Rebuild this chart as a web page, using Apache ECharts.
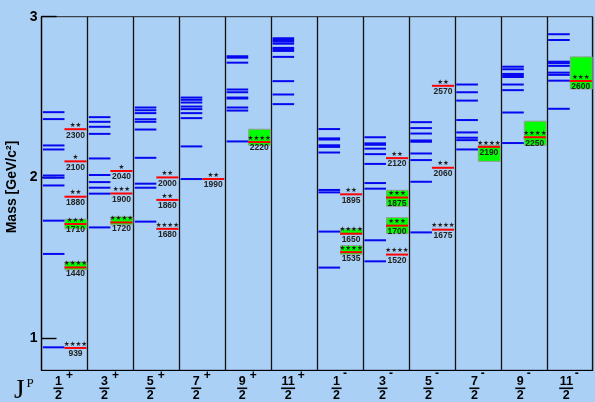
<!DOCTYPE html>
<html>
<head>
<meta charset="utf-8">
<script src="https://cdn.jsdelivr.net/npm/echarts@6/dist/echarts.min.js"></script>
<style>
  html, body { margin: 0; padding: 0; background: #aad0f5; }
  #chart { width: 595px; height: 402px; }
</style>
</head>
<body>
<div id="chart"></div>
<script>
// J^P columns
const categories = ['1/2+', '3/2+', '5/2+', '7/2+', '9/2+', '11/2+',
                    '1/2-', '3/2-', '5/2-', '7/2-', '9/2-', '11/2-'];

// Quark-model nucleon levels per J^P column (GeV/c^2)
const model_1_2p  = [0.943, 1.524, 1.731, 1.950, 1.998, 2.012, 2.174, 2.199, 2.363, 2.406];
const model_3_2p  = [1.689, 1.899, 1.936, 1.971, 2.015, 2.118, 2.271, 2.315, 2.346, 2.375];
const model_5_2p  = [1.725, 1.936, 1.961, 2.122, 2.298, 2.346, 2.362, 2.400, 2.418, 2.435];
const model_7_2p  = [1.990, 2.193, 2.369, 2.400, 2.425, 2.441, 2.466, 2.483, 2.497];
const model_9_2p  = [2.224, 2.416, 2.435, 2.491, 2.497, 2.530, 2.547, 2.714, 2.745, 2.754];
const model_11_2p = [2.456, 2.516, 2.599, 2.750, 2.787, 2.798, 2.806, 2.832, 2.845, 2.855, 2.866];
const model_1_2m  = [1.439, 1.663, 1.907, 1.922, 2.155, 2.190, 2.200, 2.236, 2.243, 2.301];
const model_3_2m  = [1.478, 1.609, 1.930, 1.965, 2.084, 2.145, 2.179, 2.203, 2.212, 2.250];
const model_5_2m  = [1.658, 1.973, 2.108, 2.149, 2.222, 2.230, 2.273, 2.307, 2.344];
const model_7_2m  = [2.174, 2.232, 2.247, 2.280, 2.357, 2.478, 2.530, 2.578];
const model_9_2m  = [2.214, 2.404, 2.543, 2.578, 2.625, 2.636, 2.644, 2.673, 2.689];
const model_11_2m = [2.427, 2.602, 2.638, 2.652, 2.694, 2.711, 2.720, 2.855, 2.891];
const modelLevels = [model_1_2p, model_3_2p, model_5_2p, model_7_2p, model_9_2p, model_11_2p,
                     model_1_2m, model_3_2m, model_5_2m, model_7_2m, model_9_2m, model_11_2m];

// Observed resonances: column index, mass (MeV) and star rating
const expColumn = [0, 0, 0, 0, 0, 0,   1, 1, 1,   2, 2, 2,   3,   4,
                   6, 6, 6,   7, 7, 7, 7,   8, 8, 8,   9,   10,   11];
const expMass   = [939, 1440, 1710, 1880, 2100, 2300,   1720, 1900, 2040,   1680, 1860, 2000,   1990,   2220,
                   1535, 1650, 1895,   1520, 1700, 1875, 2120,   1675, 2060, 2570,   2190,   2250,   2600];
const expStars  = [4, 4, 3, 2, 1, 2,   4, 3, 1,   4, 2, 2,   2,   4,
                   4, 4, 2,   4, 3, 3, 2,   4, 2, 2,   4,   4,   3];

// Mass ranges of the established states (MeV), drawn as boxes
const rangeColumn = [0, 0, 1, 4, 6, 6, 7, 7, 9, 10, 11];
const rangeLow    = [1425, 1680, 1705, 2200, 1522, 1646, 1650, 1820, 2100, 2200, 2550];
const rangeHigh   = [1475, 1740, 1755, 2300, 1576, 1679, 1750, 1920, 2200, 2350, 2750];

// Y axis tick values (GeV/c^2)
const massTicks = [1, 2, 3];

const modelData = [];
modelLevels.forEach((levels, col) => levels.forEach(m => modelData.push([col, m])));
const expData = expMass.map((m, i) => [expColumn[i], m / 1000, expStars[i], m]);
const rangeData = rangeLow.map((lo, i) => [rangeColumn[i], lo / 1000, rangeHigh[i] / 1000]);

const chart = echarts.init(document.getElementById('chart'), null, { renderer: 'canvas' });

// "1/2+" -> stacked fraction with the parity sign as a superscript
function jpLabel(value) {
  const m = value.match(/^(\d+)\/(\d+)([+-])$/);
  const wide = m[1].length > 1 ? 'W' : '';
  const neg = m[3] === '-';
  const g = neg ? 'gm' : 'gp';
  const sign = neg ? '{sm|-}' : '{sp|+}';
  return '{num' + wide + '|' + m[1] + '}' + sign + '\n' +
         '{bar' + wide + '|}{' + g + '|}\n' +
         '{den' + wide + '|' + m[2] + '}{' + g + '|}';
}

const digit = { fontSize: 12.5, fontWeight: 'bold', color: '#000', fontFamily: 'Liberation Sans', align: 'center' };
const signStyle = { fontSize: 12, fontWeight: 'bold', color: '#000', fontFamily: 'Liberation Sans', align: 'center' };

chart.setOption({
  animation: false,
  backgroundColor: '#aad0f5',
  grid: {
    left: 41.5, right: 2.3, top: 16.7, bottom: 31.7,
    outerBoundsMode: 'none',
    containLabel: false,
    show: true, borderColor: '#222', borderWidth: 1, backgroundColor: 'transparent'
  },
  xAxis: {
    type: 'category',
    data: categories,
    boundaryGap: true,
    axisLine: { lineStyle: { color: '#000', width: 1.2 } },
    axisTick: { show: false },
    splitLine: { show: true, interval: 0, lineStyle: { color: '#111', width: 1.3 } },
    axisLabel: {
      interval: 0,
      margin: 1,
      formatter: jpLabel,
      rich: {
        // first line: numerator sits low, parity sign high
        num:  Object.assign({}, digit, { width: 10, height: 9, padding: [5.5, 0, 0, 0], lineHeight: 15, verticalAlign: 'top' }),
        numW: Object.assign({}, digit, { width: 14, height: 9, padding: [5.5, 0, 0, 0], lineHeight: 15, verticalAlign: 'top' }),
        sp: Object.assign({}, signStyle, { width: 12, height: 9.4, lineHeight: 15, verticalAlign: 'top' }),
        sm: Object.assign({}, signStyle, { width: 7, height: 4, lineHeight: 15, verticalAlign: 'top' }),
        // fraction bar
        bar:  { width: 10, height: 1.6, backgroundColor: '#000', lineHeight: 4 },
        barW: { width: 14, height: 1.6, backgroundColor: '#000', lineHeight: 4 },
        gp: { width: 12, height: 1.6, lineHeight: 4 },
        gm: { width: 7, height: 1.6, lineHeight: 4 },
        // denominator
        den:  Object.assign({}, digit, { width: 10, lineHeight: 11 }),
        denW: Object.assign({}, digit, { width: 14, lineHeight: 11 })
      }
    }
  },
  yAxis: {
    type: 'value',
    min: 0.8,
    max: 3.0,
    name: 'Mass [GeV/c²]',
    nameLocation: 'middle',
    nameGap: 14,
    nameRotate: 90,
    nameTextStyle: {
      fontSize: 14, fontWeight: 'bold', color: '#000', fontFamily: 'Liberation Sans',
      padding: [0, 0, 0, 13]
    },
    axisLine: { show: true, lineStyle: { color: '#000', width: 1.2 } },
    axisTick: {
      show: true, inside: true, length: 15, customValues: massTicks,
      lineStyle: { color: '#000', width: 1.4 }
    },
    axisLabel: {
      customValues: massTicks, margin: 4,
      fontSize: 14, fontWeight: 'bold', color: '#000', fontFamily: 'Liberation Sans'
    },
    splitLine: { show: false }
  },
  graphic: [
    { type: 'text', x: 14, y: 391,
      style: { text: 'J', font: '27px "Liberation Serif"', fill: '#000',
               verticalAlign: 'middle', textVerticalAlign: 'middle' } },
    { type: 'text', x: 26.5, y: 384,
      style: { text: 'P', font: '13px "Liberation Serif"', fill: '#000',
               verticalAlign: 'middle', textVerticalAlign: 'middle' } }
  ],
  series: [
    {
      // mass-range boxes
      type: 'custom',
      z: 1,
      data: rangeData,
      encode: { x: 0, y: 1 },
      renderItem: function (params, api) {
        const lo = api.coord([api.value(0), api.value(1)]);
        const hi = api.coord([api.value(0), api.value(2)]);
        const w = api.size([1, 0])[0];
        return {
          type: 'rect',
          shape: { x: lo[0] + 0.5, y: hi[1], width: w * 0.5 - 1, height: lo[1] - hi[1] },
          style: { fill: '#00ff00', stroke: '#9a9a9a', lineWidth: 1 }
        };
      }
    },
    {
      // quark-model levels
      type: 'custom',
      z: 2,
      data: modelData,
      encode: { x: 0, y: 1 },
      renderItem: function (params, api) {
        const c = api.coord([api.value(0), api.value(1)]);
        const w = api.size([1, 0])[0];
        return {
          type: 'line',
          shape: { x1: c[0] - w * 0.47, y1: c[1], x2: c[0], y2: c[1] },
          style: { stroke: '#0808f0', lineWidth: 2 }
        };
      }
    },
    {
      // observed states with rating and mass
      type: 'custom',
      z: 3,
      data: expData,
      encode: { x: 0, y: 1 },
      renderItem: function (params, api) {
        const c = api.coord([api.value(0), api.value(1)]);
        const w = api.size([1, 0])[0];
        const x1 = c[0], x2 = c[0] + w * 0.48, mid = (x1 + x2) / 2;
        return {
          type: 'group',
          children: [
            { type: 'line', shape: { x1: x1, y1: c[1], x2: x2, y2: c[1] },
              style: { stroke: '#ff0000', lineWidth: 2 } },
            { type: 'text', x: mid, y: c[1] - 4,
              style: { text: '★'.repeat(api.value(2)), fill: '#222', font: '6.5px "DejaVu Sans"',
                       align: 'center', textAlign: 'center',
                       verticalAlign: 'middle', textVerticalAlign: 'middle' } },
            { type: 'text', x: mid, y: c[1] + 6,
              style: { text: String(api.value(3)), fill: '#222', font: 'bold 8.5px "Liberation Sans"',
                       align: 'center', textAlign: 'center',
                       verticalAlign: 'middle', textVerticalAlign: 'middle' } }
          ]
        };
      }
    }
  ]
});
</script>
</body>
</html>
